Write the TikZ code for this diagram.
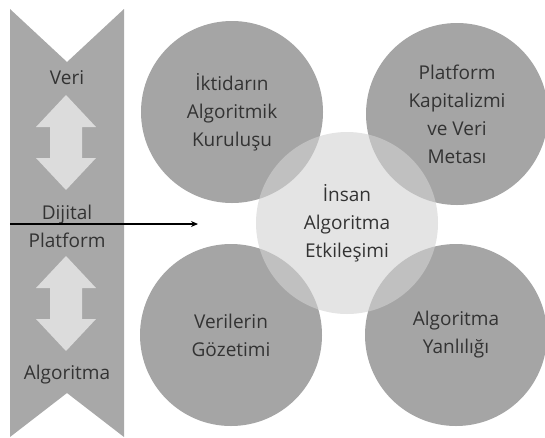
\documentclass[tikz,border=0pt]{standalone}
\usepackage{fontspec}
\setmainfont{Open Sans}
\usetikzlibrary{positioning,arrows.meta}
\definecolor{bandgray}{HTML}{A8A8A8}
\definecolor{shaftgray}{HTML}{DCDCDC}
\definecolor{topicgray}{HTML}{A5A5A5}
\definecolor{coregray}{HTML}{D2D2D2}
\definecolor{inkgray}{HTML}{333333}

\begin{document}
\begin{tikzpicture}[x=1pt, y=-1pt,
				 every node/.style={align=center, text=inkgray, font=\fontsize{19}{28}\selectfont},
				 topic/.style={circle, fill=topicgray, minimum size=182pt, inner sep=0pt},
				 core/.style={topic, fill=coregray, fill opacity=0.6, text opacity=1},
				 flow/.style={-{Stealth[length=7pt,width=6pt]}, line width=1.1pt, black}]

		\useasboundingbox (0,0) rectangle (545,437);

		% banner with the two double arrows
		\fill[bandgray] (10,9) -- (67,62) -- (124,9) -- (124,437) -- (67,393) -- (10,437) -- cycle;
		\foreach \cy in {142.5,303.5}
			\fill[shaftgray] (66,\cy-47.5) -- (96,\cy-15.5) -- (82,\cy-15.5) -- (82,\cy+15.5) -- (96,\cy+15.5)
				-- (66,\cy+47.5) -- (36,\cy+15.5) -- (50,\cy+15.5) -- (50,\cy-15.5) -- (36,\cy-15.5) -- cycle;

		\node (veri) at (67,78) {Veri};
		\node (platform) at (67,226) {Dijital\\Platform};
		\node (algoritma) at (67,375) {Algoritma};

		\coordinate (flow start) at (10,224);
		\coordinate (flow end) at (198,224);
		\draw[flow] (flow start) -- (flow end);

		% topics round the core
		\node[topic] (iktidar) at (232,112) {İktidarın\\Algoritmik\\Kuruluşu};
		\node[topic] (kapital) at (457,114) {Platform\\Kapitalizmi\\ve Veri\\Metası};
		\node[topic] (gozetim) at (231,335) {Verilerin\\Gözetimi};
		\node[topic] (yanlilik) at (456,335) {Algoritma\\Yanlılığı};
		\node[core] (etkilesim) at (347,223) {İnsan\\Algoritma\\Etkileşimi};

\end{tikzpicture}
\end{document}
